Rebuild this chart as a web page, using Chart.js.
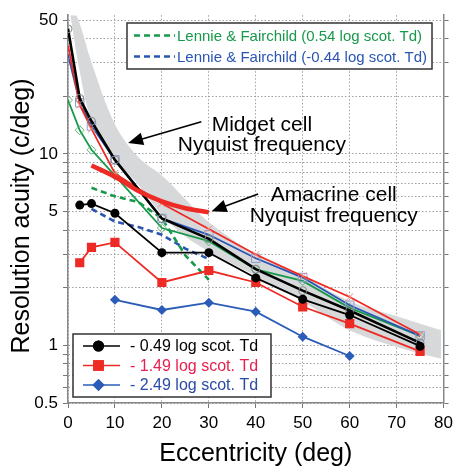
<!DOCTYPE html>
<html>
<head>
<meta charset="utf-8">
<script src="https://cdn.jsdelivr.net/npm/chart.js@4.4.1/dist/chart.umd.min.js"></script>
<style>
  html, body { margin: 0; padding: 0; background: #fff; }
</style>
</head>
<body>
<canvas id="acuity" width="458" height="470"></canvas>
<script>
// eccentricities (deg)
const eccOpen = [0, 2.5, 5, 10, 20, 30, 40, 50, 60, 75];
const eccFilled = [2.5, 5, 10, 20, 30, 40, 50, 60, 75];
const eccDiamond = [10, 20, 30, 40, 50, 60];
const eccLennie = [5, 10, 15, 20, 25, 30];
const eccAmacrine = [5, 10, 15, 20, 25, 30];
const eccBand = [0.5, 2.5, 5, 10, 15, 20, 25, 30, 40, 50, 60, 70, 79.5];

// photopic observers, open markers (c/deg)
const openCircle = [45, 19.5, 14.8, 9.3, 4.6, 3.6, 2.5, 1.93, 1.52, 1.03];
const openSquare = [33, 18.5, 14.0, 9.3, 4.6, 3.78, 2.85, 2.26, 1.62, 1.12];
const openCross = [37, 18, 13.5, 7.9, 5.5, 4.05, 2.98, 2.3, 1.79, 1.14];
const openDiamond = [19.1, 13.3, 10.5, 7.7, 4.1, 3.5, 2.49, 2.17, 1.57, 1.12];

// scotopic levels, filled markers
const scot049 = [5.4, 5.5, 4.9, 3.05, 3.05, 2.25, 1.74, 1.44, 0.99];
const scot149 = [2.7, 3.25, 3.45, 2.13, 2.46, 2.13, 1.59, 1.3, 0.93];
const scot249 = [1.73, 1.53, 1.67, 1.5, 1.11, 0.88];

// Lennie & Fairchild
const lennie054 = [6.65, 6.0, 5.6, 4.6, 2.95, 2.2];
const lennieNeg044 = [5.16, 4.43, 4.15, 3.78, 3.2, 2.82];

// Nyquist limits
const amacrineNyq = [8.7, 7.6, 6.4, 5.65, 5.2, 4.95];
const midgetUpper = [62, 48, 30, 14.3, 9.6, 7.7, 5.8, 4.4, 3.0, 2.3, 1.7, 1.42, 1.2];
const midgetLower = [53, 27, 15, 9.4, 6.9, 4.8, 3.7, 3.1, 2.3, 1.7, 1.2, 0.98, 0.85];

// axis ticks
const yGrid = [0.5, 0.6, 0.7, 0.8, 0.9, 1, 2, 3, 4, 5, 6, 7, 8, 9, 10, 20, 30, 40, 50];
const yLabels = [0.5, 1, 5, 10, 50];

const FONT = "'Liberation Sans', Arial, Helvetica, sans-serif";
Chart.defaults.font.family = FONT;
Chart.defaults.color = '#000';

const pts = (xs, ys) => xs.map((x, i) => ({ x: x, y: ys[i] }));

const RED = '#ee2a24';
const GREEN = '#17994a';
const BLUE = '#2a55b3';

function arrow(ctx, from, to, head) {
  const [x0, y0] = from, [x1, y1] = to;
  const a = Math.atan2(y1 - y0, x1 - x0);
  ctx.beginPath();
  ctx.moveTo(x0, y0);
  ctx.lineTo(x1 - Math.cos(a) * head * 0.8, y1 - Math.sin(a) * head * 0.8);
  ctx.stroke();
  const w = head * 0.42;
  ctx.beginPath();
  ctx.moveTo(x1, y1);
  ctx.lineTo(x1 - head * Math.cos(a) + w * Math.sin(a), y1 - head * Math.sin(a) - w * Math.cos(a));
  ctx.lineTo(x1 - head * Math.cos(a) - w * Math.sin(a), y1 - head * Math.sin(a) + w * Math.cos(a));
  ctx.closePath();
  ctx.fill();
}

// text + arrows for the two Nyquist curves, and the y title
const nyquistNotes = {
  id: 'nyquistNotes',
  afterDraw(chart) {
    const { ctx, scales: { x, y } } = chart;
    const P = (ex, ey) => [x.getPixelForValue(ex), y.getPixelForValue(ey)];
    ctx.save();
    ctx.fillStyle = '#000';
    ctx.strokeStyle = '#000';
    ctx.lineWidth = 1.6;
    ctx.font = '21px ' + FONT;
    ctx.textAlign = 'center';
    ctx.textBaseline = 'alphabetic';
    let p = P(41.3, 13.2); ctx.fillText('Midget cell', p[0], p[1]);
    p = P(41.3, 10.3); ctx.fillText('Nyquist frequency', p[0], p[1]);
    p = P(56.6, 5.67); ctx.fillText('Amacrine cell', p[0], p[1]);
    p = P(56.6, 4.40); ctx.fillText('Nyquist frequency', p[0], p[1]);
    arrow(ctx, P(28.4, 14.7), P(12.8, 11.4), 15);
    arrow(ctx, P(40.5, 6.17), P(30.6, 5.02), 15);

    ctx.font = '25px ' + FONT;
    ctx.textBaseline = 'middle';
    ctx.translate(22, 216);
    ctx.rotate(-Math.PI / 2);
    ctx.fillText('Resolution acuity (c/deg)', 0, 0);
    ctx.restore();
  }
};

// the two boxed legends
const boxLegends = {
  id: 'boxLegends',
  afterDraw(chart) {
    const ctx = chart.ctx;
    const ds = chart.data.datasets;
    ctx.save();

    // upper box
    ctx.fillStyle = '#fff';
    ctx.fillRect(127, 23, 305, 46);
    ctx.strokeStyle = '#333';
    ctx.lineWidth = 1.5;
    ctx.strokeRect(127, 23, 305, 46);
    ctx.font = '15px ' + FONT;
    ctx.textBaseline = 'middle';
    ctx.textAlign = 'left';
    [[ds[2], 35.5], [ds[3], 56.5]].forEach(([d, yy]) => {
      ctx.strokeStyle = d.borderColor;
      ctx.lineWidth = d.borderWidth;
      ctx.setLineDash(d.borderDash);
      ctx.beginPath(); ctx.moveTo(134, yy); ctx.lineTo(175, yy); ctx.stroke();
      ctx.setLineDash([]);
      ctx.fillStyle = d.borderColor;
      ctx.fillText(d.label, 177, yy + 1);
    });

    // lower box
    ctx.fillStyle = '#fff';
    ctx.fillRect(73, 334, 198, 63);
    ctx.strokeStyle = '#333';
    ctx.lineWidth = 1.5;
    ctx.strokeRect(73, 334, 198, 63);
    ctx.font = '16px ' + FONT;
    const rows = [[ds[11], 346, '#000'], [ds[10], 365.5, '#e8204f'], [ds[9], 385, '#2a4aa6']];
    rows.forEach(([d, yy, tc]) => {
      ctx.strokeStyle = d.borderColor;
      ctx.lineWidth = 1.5;
      ctx.beginPath(); ctx.moveTo(83, yy); ctx.lineTo(120, yy); ctx.stroke();
      ctx.fillStyle = d.pointBackgroundColor;
      Chart.helpers.drawPoint(ctx, { pointStyle: d.pointStyle, radius: d.pointRadius + 1, rotation: 0, borderWidth: 0 }, 98.5, yy);
      ctx.fill();
      ctx.fillStyle = tc;
      ctx.fillText(d.label, 130, yy + 1);
    });
    ctx.restore();
  }
};

const thin = (label, data, color, markColor, style, r, order, width) => ({
  label: label, data: pts(eccOpen, data), borderColor: color, borderWidth: width || 1.8,
  pointStyle: style, pointRadius: r, pointBorderColor: markColor, pointBorderWidth: 1,
  pointBackgroundColor: 'rgba(0,0,0,0)', fill: false, order: order
});

const filled = (label, xs, data, color, style, r, order) => ({
  label: label, data: pts(xs, data), borderColor: color, borderWidth: 1.8,
  pointStyle: style, pointRadius: r, pointBorderWidth: 0, pointBackgroundColor: color,
  fill: false, order: order
});

new Chart(document.getElementById('acuity'), {
  type: 'line',
  data: {
    datasets: [
      { label: 'Midget cell Nyquist (upper)', data: pts(eccBand, midgetUpper), borderWidth: 0, pointRadius: 0,
        backgroundColor: '#d6d8da', fill: '+1', tension: 0.35, order: 20 },
      { label: 'Midget cell Nyquist (lower)', data: pts(eccBand, midgetLower), borderWidth: 0, pointRadius: 0,
        fill: false, tension: 0.35, order: 20 },
      { label: 'Lennie & Fairchild (0.54 log scot. Td)', data: pts(eccLennie, lennie054), borderColor: GREEN,
        borderWidth: 2.6, borderDash: [6, 4], pointRadius: 0, fill: false, order: 15 },
      { label: 'Lennie & Fairchild (-0.44 log scot. Td)', data: pts(eccLennie, lennieNeg044), borderColor: BLUE,
        borderWidth: 2.6, borderDash: [6, 4], pointRadius: 0, fill: false, order: 15 },
      thin('obs diamond', openDiamond, GREEN, '#5cb878', 'rectRot', 4.5, 12),
      thin('obs square', openSquare, BLUE, '#8c9fd4', 'rect', 6, 11),
      thin('obs cross', openCross, RED, '#f58a7a', 'crossRot', 5, 10),
      thin('obs circle', openCircle, '#000', '#888', 'circle', 4, 9, 2.6),
      { label: 'Amacrine cell Nyquist frequency', data: pts(eccAmacrine, amacrineNyq), borderColor: RED,
        borderWidth: 4.5, pointRadius: 0, fill: false, cubicInterpolationMode: 'monotone', order: 8 },
      filled('- 2.49 log scot. Td', eccDiamond, scot249, '#2a5cb8', 'rectRot', 5, 3),
      filled('- 1.49 log scot. Td', eccFilled, scot149, RED, 'rect', 6.5, 2),
      filled('- 0.49 log scot. Td', eccFilled, scot049, '#000', 'circle', 4.5, 1)
    ]
  },
  options: {
    responsive: false,
    animation: false,
    devicePixelRatio: 1,
    layout: { padding: { top: 12, right: 0, left: 0, bottom: 0 } },
    plugins: { legend: { display: false }, tooltip: { enabled: false } },
    scales: {
      x: {
        type: 'linear', min: 0, max: 80,
        ticks: { stepSize: 10, font: { size: 17 }, padding: 5, color: '#000' },
        grid: { color: '#a0a0a0', lineWidth: 1, tickLength: 5, tickColor: '#777' },
        border: { display: true, color: '#888', width: 1.5, dash: [1.5, 2] },
        title: { display: true, text: 'Eccentricity (deg)', font: { size: 25 }, padding: { top: 0, bottom: 1 }, color: '#000' },
        afterFit: s => { s.height = 67; }
      },
      y: {
        type: 'logarithmic', min: 0.5, max: 53,
        afterBuildTicks: s => { s.ticks = yGrid.map(v => ({ value: v })); },
        ticks: { autoSkip: false, font: { size: 17 }, padding: 5, color: '#000',
          callback: v => (yLabels.includes(v) ? String(v) : '') },
        grid: { color: '#a0a0a0', lineWidth: 1, tickLength: 5, tickColor: '#777' },
        border: { display: true, color: '#888', width: 1.5, dash: [1.5, 2] },
        afterFit: s => { s.width = 68; }
      },
      y2: {
        type: 'logarithmic', position: 'right', min: 0.5, max: 53,
        afterBuildTicks: s => { s.ticks = yGrid.map(v => ({ value: v })); },
        ticks: { display: false, autoSkip: false },
        grid: { drawOnChartArea: false, tickLength: 5, tickColor: '#777' },
        border: { display: true, color: '#888', width: 1.5 },
        afterFit: s => { s.width = 10; }
      }
    }
  },
  plugins: [nyquistNotes, boxLegends]
});
</script>
</body>
</html>
